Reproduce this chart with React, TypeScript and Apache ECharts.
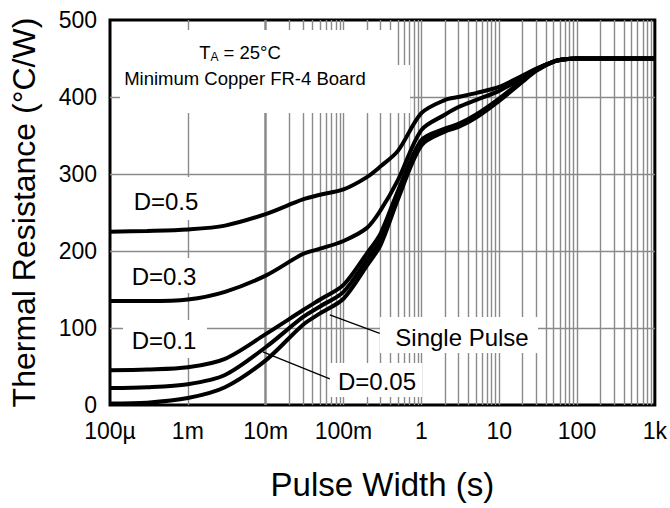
import React, { useEffect, useRef } from "react";
import * as echarts from "echarts";

// Pulse widths (s) at which the curves were read
const pulseWidth = [1e-4, 3e-4, 1e-3, 3e-3, 1e-2, 3e-2, 5e-2, 0.1, 0.2, 0.3, 0.5, 1, 2, 3, 5, 10, 20, 30, 50, 70, 100, 200, 500, 1000];
const d05 = [225, 226, 228, 233, 248, 267, 273, 280, 296, 310, 330, 379, 396, 400, 405, 413, 428, 437, 446, 449, 450, 450, 450, 450];
const d03 = [135, 135, 137, 147, 168, 196, 203, 213, 230, 253, 292, 357, 377, 387, 396, 408, 425, 436, 446, 449, 450, 450, 450, 450];
const d01 = [45, 46, 49, 60, 92, 123, 137, 156, 197, 223, 278, 344, 359, 365, 377, 398, 422, 435, 446, 449, 450, 450, 450, 450];
const d005 = [22, 23, 27, 39, 75, 114, 128, 147, 189, 215, 272, 340, 357, 363, 375, 396, 421, 435, 446, 449, 450, 450, 450, 450];
const single = [2, 3, 9, 23, 58, 104, 119, 138, 181, 208, 267, 337, 355, 361, 373, 395, 420, 434, 446, 449, 450, 450, 450, 450];

const xTickLabels = ["100µ", "1m", "10m", "100m", "1", "10", "100", "1k"];
const yTicks = [0, 100, 200, 300, 400, 500];
const decades = [-4, -3, -2, -1, 0, 1, 2];
const minorMultipliers = [2, 3, 4, 5, 6, 7, 8, 9];

// leader lines: [from [t, value], to [t, value]]
const leaderSingle = [[0.0667, 117], [0.292, 93]];
const leader005 = [[0.0092, 69], [0.0667, 34]];

const FONT = "'Liberation Sans', Arial, Helvetica, sans-serif";
const GRID_GRAY = "#8a8a8a";

export default function App() {
  const ref = useRef<HTMLDivElement>(null);
  useEffect(() => {
    if (!ref.current) return;
    const chart = echarts.init(ref.current, undefined, { renderer: "svg" });
    const mk = (vals: number[]) => pulseWidth.map((t, i) => [t, vals[i]]);
    const minorLines: any[] = [];
    decades.forEach((d) => minorMultipliers.forEach((m) => minorLines.push({ xAxis: m * Math.pow(10, d) })));

    const curveStyle = { color: "#000", width: 4 };
    const baseSeries = (name: string, vals: number[]) => ({
      name,
      type: "line",
      data: mk(vals),
      smooth: 0.3,
      showSymbol: false,
      symbol: "none",
      lineStyle: curveStyle,
      z: 5,
      silent: true,
    });

    const gz = 3;
    const text = (x: number, y: number, t: string, size: number) => ({
      type: "text",
      x,
      y,
      z: gz,
      silent: true,
      style: { text: t, fontSize: size, fontFamily: FONT, fill: "#000", align: "center", verticalAlign: "middle" },
    });
    const box = (x: number, y: number, w: number, h: number) => ({
      type: "rect",
      z: gz,
      silent: true,
      shape: { x, y, width: w, height: h },
      style: { fill: "#fff" },
    });

    chart.setOption({
      animation: false,
      grid: { left: 110, right: 15, top: 20, bottom: 103, show: true, borderColor: "#000", borderWidth: 3, backgroundColor: "transparent" },
      xAxis: {
        type: "log",
        logBase: 10,
        min: 1e-4,
        max: 1e3,
        interval: 1,
        splitNumber: 7,
        name: "Pulse Width (s)",
        nameLocation: "middle",
        nameGap: 63,
        nameTextStyle: { fontSize: 33, fontFamily: FONT, color: "#000" },
        axisLine: { show: false },
        axisTick: { show: false },
        axisLabel: {
          fontSize: 23,
          fontFamily: FONT,
          color: "#000",
          margin: 14,
          showMinLabel: true,
          showMaxLabel: true,
          formatter: (v: number) => xTickLabels[Math.round(Math.log10(v)) + 4] ?? "",
        },
        splitLine: { show: true, showMinLine: false, showMaxLine: false, lineStyle: { color: GRID_GRAY, width: 1.4 } },
      },
      yAxis: {
        type: "value",
        min: yTicks[0],
        max: yTicks[yTicks.length - 1],
        interval: 100,
        name: "Thermal Resistance (°C/W)",
        nameLocation: "middle",
        nameGap: 70,
        nameTextStyle: { fontSize: 32, fontFamily: FONT, color: "#000" },
        axisLine: { show: false },
        axisTick: { show: false },
        axisLabel: { fontSize: 23, fontFamily: FONT, color: "#000", margin: 13 },
        splitLine: { show: true, showMinLine: false, showMaxLine: false, lineStyle: { color: GRID_GRAY, width: 1.4 } },
      },
      series: [
        {
          ...baseSeries("D=0.5", d05),
          markLine: {
            z: 1,
            silent: true,
            symbol: ["none", "none"],
            label: { show: false },
            lineStyle: { color: GRID_GRAY, width: 1.4, type: "solid" },
            emphasis: { disabled: true },
            data: minorLines,
          },
        },
        {
          ...baseSeries("D=0.3", d03),
          markLine: {
            z: 4,
            silent: true,
            symbol: ["none", "none"],
            label: { show: false },
            lineStyle: { color: "#000", width: 1.3, type: "solid" },
            emphasis: { disabled: true },
            data: [
              [{ coord: leaderSingle[0] }, { coord: leaderSingle[1] }],
              [{ coord: leader005[0] }, { coord: leader005[1] }],
            ],
          },
        },
        baseSeries("D=0.1", d01),
        baseSeries("D=0.05", d005),
        baseSeries("Single Pulse", single),
      ],
      graphic: {
        elements: [
          box(120, 30, 275, 83),
          box(395, 65, 15, 48),
          {
            type: "text",
            x: 240,
            y: 52,
            z: gz,
            silent: true,
            style: {
              text: "{t|T}{s|A}{t| = 25°C}",
              align: "center",
              verticalAlign: "middle",
              rich: {
                t: { fontSize: 18.5, fontFamily: FONT, fill: "#000", color: "#000", lineHeight: 22, verticalAlign: "middle" },
                s: { fontSize: 12, fontFamily: FONT, fill: "#000", color: "#000", lineHeight: 12, verticalAlign: "bottom" },
              },
            },
          },
          text(245, 78, "Minimum Copper FR-4 Board", 18.5),
          box(118, 177, 87, 43),
          text(166, 201, "D=0.5", 24),
          box(118, 258, 87, 35),
          text(164, 276, "D=0.3", 24),
          box(123, 320, 84, 38),
          text(164, 340, "D=0.1", 24),
          box(380, 317, 158, 36),
          text(462, 337, "Single Pulse", 24),
          box(330, 363, 92, 34),
          text(377, 381, "D=0.05", 24),
        ],
      },
    });
    return () => chart.dispose();
  }, []);
  return <div ref={ref} style={{ position: "fixed", left: 0, top: 0, width: 670, height: 508, background: "#fff" }} />;
}
